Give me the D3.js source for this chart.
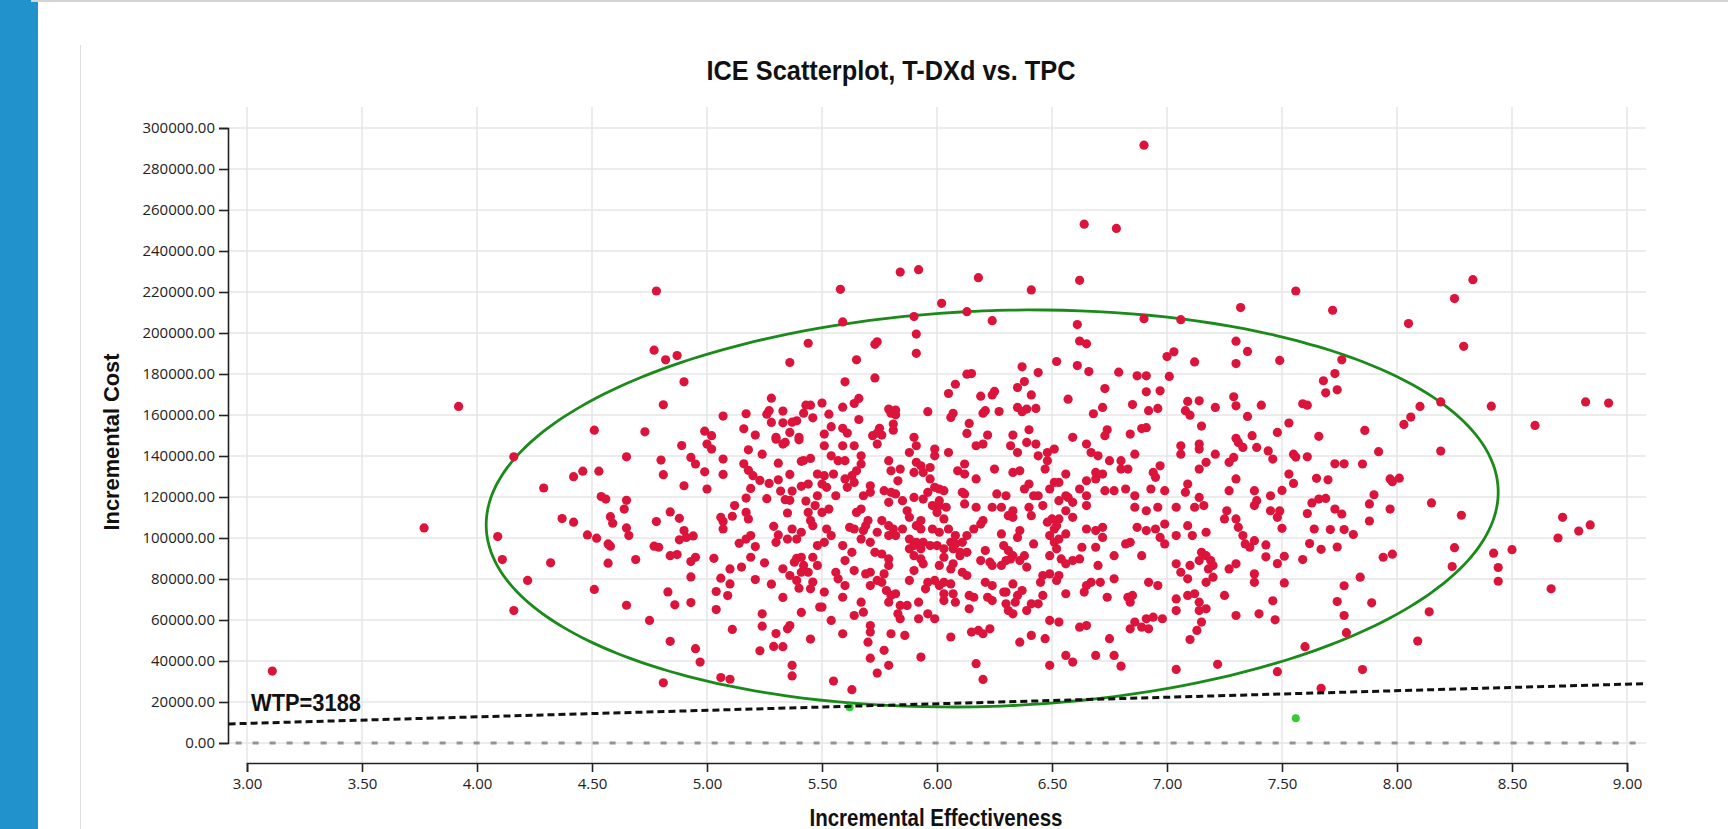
<!DOCTYPE html>
<html>
<head>
<meta charset="utf-8">
<title>ICE Scatterplot</title>
<script src="https://cdn.jsdelivr.net/npm/d3@7"></script>
<style>
  body { margin: 0; background: #fff; }
  svg { display: block; font-family: "Liberation Sans", Arial, sans-serif; }
  .tick text { font-family: "Open Sans", sans-serif; font-size: 15px; fill: #222; }
</style>
</head>
<body>
<svg id="chart" width="1728" height="829"></svg>
<script>
// willingness to pay threshold
const wtp = 3188;

const xTickValues = [3, 3.5, 4, 4.5, 5, 5.5, 6, 6.5, 7, 7.5, 8, 8.5, 9];
const yTickValues = [0, 20000, 40000, 60000, 80000, 100000, 120000, 140000, 160000,
                     180000, 200000, 220000, 240000, 260000, 280000, 300000];

// confidence ellipse: centre and two conjugate half-axes
const ellipseCenter = [6.24, 114400];
const ellipseAxisA = [2.2, 7950];
const ellipseAxisB = [0, 96520];

// extent of the WTP and zero reference lines (effectiveness)
const refLineExtent = [2.92, 9.08];

// [incremental effectiveness, incremental cost]
const icePoints = [
  [3.11,35100],[3.77,104900],[3.92,164200],
  [4.78,220500],[4.77,191600],[4.82,186900],[4.87,189000],[4.90,176200],[4.81,165000],[5.44,195000],[5.36,185600],[5.28,168200],[5.07,159500],[5.17,160600],[5.26,160400],[5.27,162100],[5.33,161900],[5.28,156400],[5.33,156200],[5.37,156500],[5.39,157200],[5.42,160900],[5.43,164800],[5.45,164800],[5.46,158600],[4.51,152600],[4.73,151800],[4.99,152100],[5.02,149900],[5.16,153300],[5.21,150200],[5.36,151500],[5.40,149100],[5.30,149100],
  [4.16,139600],[4.09,100700],[4.11,89500],[4.22,79300],[4.16,64600],[4.29,124400],[4.32,87900],[4.37,109500],[4.42,107700],[4.42,129900],[4.46,132600],[4.53,132600],[4.48,101500],[4.52,99900],[4.51,74900],[4.54,120200],[4.56,119000],[4.57,97100],[4.58,96000],[4.57,87700],[4.58,110400],[4.59,107200],[4.64,114100],[4.65,118400],[4.65,139600],[4.65,104900],[4.66,101200],[4.69,89500],[4.65,67200],[4.75,59800],[4.80,138000],[4.81,130900],[4.78,108000],[4.77,96000],[4.79,95500],[4.84,112700],[4.88,109600],[4.83,73700],[4.84,49600],[4.81,29400],[4.86,67400],[4.84,91400],[4.87,91900],[4.88,99100],[4.90,103600],[4.91,100300],[4.94,101000],[4.89,145100],[4.90,125500],[4.93,139300],[4.95,136100],[4.99,132300],[5.00,123900],[5.00,145800],[5.02,143400],[4.95,90600],[4.93,88500],[4.93,81000],[4.93,68500],[4.95,46000],[4.97,39500],[5.03,90100],[5.06,80400],[5.04,73900],[5.04,65100],[5.06,31900],[5.10,31100],[5.11,55400],[5.09,71900],[5.10,77600],[5.10,84900],[5.15,85800],[5.14,97400],[5.17,99500],[5.19,101200],[5.21,95800],[5.19,90600],[5.21,79700],[5.25,87900],[5.28,77500],[5.33,71000],[5.24,63000],[5.24,57000],[5.30,53400],[5.35,55700],[5.36,57300],[5.29,47100],[5.33,47000],[5.23,45000],[5.37,37900],[5.37,32700],[5.41,63700],[5.45,50700],[5.06,110100],[5.07,108000],[5.07,104400],[5.11,110600],[5.12,115800],[5.17,112500],[5.18,109300],[5.17,119500],[5.19,124200],[5.18,143000],[5.16,136200],[5.18,133000],[5.20,130400],[5.23,128100],[5.24,140900],[5.07,138500],[5.07,131000],[5.27,126600],[5.26,119200],[5.31,136500],[5.31,128400],[5.30,148200],[5.33,145800],[5.34,146600],[5.40,147900],[5.36,131000],[5.41,137400],[5.42,137800],[5.45,138800],[5.41,125200],[5.44,126300],[5.32,122900],[5.37,122900],[5.34,118700],[5.36,118400],[5.35,112200],[5.43,118000],[5.29,105700],[5.30,97900],[5.31,101500],[5.35,99500],[5.37,104400],[5.39,99500],[5.41,102800],[5.44,112500],[5.45,108500],[5.46,106000],[5.47,115800],[5.48,120600],[5.48,131200],[5.48,96300],[5.33,85000],[5.36,81700],[5.38,88200],[5.39,90100],[5.41,90600],[5.42,86600],[5.41,83300],[5.39,79300],[5.40,75500],[5.44,83300],[5.45,75200],[5.46,78500],[5.46,90600],[5.48,86600],[5.49,66300],
  [6.90,291600],[6.64,253100],[6.78,251000],[5.84,229700],[5.92,230900],[5.58,221300],[6.18,227000],[6.41,221000],[6.62,225700],[6.02,214500],[5.59,205400],[5.90,208000],[6.13,210400],[6.24,206000],[6.90,207000],[7.06,206500],[7.32,212400],[6.61,204100],[5.91,199500],[5.91,190100],[5.73,194500],[5.74,195700],[5.65,186900],[6.62,196100],[6.65,194700],[7.30,196000],[7.35,191000],[7.30,185100],[7.00,188500],[7.03,190800],[7.12,185900],[6.52,186100],[6.61,184100],[6.66,181200],[6.79,180900],[6.87,179100],[6.91,179100],[7.01,178800],[6.37,183500],[6.44,180700],[6.38,176300],[6.35,173400],[6.41,169800],[6.13,179900],[6.15,180200],[6.08,175000],[6.05,170500],[6.19,169200],[6.25,171500],[6.24,169800],[6.21,162100],[6.20,160900],[6.27,161700],[6.07,160800],[6.06,158800],[6.14,155900],[6.13,151000],[6.22,150200],[6.33,150200],[6.35,163700],[6.37,161600],[6.39,162900],[6.43,163200],[6.40,152800],[6.57,167700],[6.73,172900],[6.72,163700],[6.68,160600],[6.59,149100],[6.74,152800],[6.73,149900],[6.84,150700],[6.85,165100],[6.91,171300],[6.97,171800],[6.92,162100],[6.96,163200],[6.89,153400],[6.91,153800],[7.09,166600],[7.14,166900],[7.08,162100],[7.10,159900],[7.15,154600],[7.21,163700],[7.29,168900],[7.30,164500],[7.35,159300],[7.30,148600],[7.37,149900],[7.41,164800],[5.50,165800],[5.53,160400],[5.59,163800],[5.64,165600],[5.66,168100],[5.60,176200],[5.73,178100],[5.66,157800],[5.54,154300],[5.59,153500],[5.61,151200],[5.51,150700],[5.79,162900],[5.82,162400],[5.80,160900],[5.82,160100],[5.81,155600],[5.81,152600],[5.75,153500],[5.74,151200],[5.72,149900],[5.76,150200],[5.96,161600],[5.90,149100],
  [5.51,145000],[5.54,140100],[5.57,137700],[5.60,137700],[5.55,131200],[5.51,130400],[5.50,126300],[5.52,124700],[5.56,120600],[5.60,128800],[5.61,124700],[5.63,130400],[5.64,127100],[5.65,132800],[5.59,145000],[5.64,145000],[5.67,140100],[5.67,136100],[5.50,112500],[5.53,114100],[5.52,104400],[5.54,101200],[5.51,97900],[5.59,96300],[5.62,105200],[5.64,104400],[5.63,93000],[5.60,89000],[5.56,83300],[5.57,80100],[5.60,76800],[5.59,71100],[5.51,73600],[5.50,66300],[5.54,59800],[5.59,53300],[5.55,30200],[5.63,26000],[5.64,62200],[5.64,84100],[5.67,68700],[5.68,63800],[5.65,112500],[5.67,114100],[5.68,120600],[5.71,125500],[5.71,122300],[5.69,106000],[5.67,99500],[5.68,103600],[5.70,108500],
  [5.74,145800],[5.79,137700],[5.80,132800],[5.84,133600],[5.83,127900],[5.77,123100],[5.80,122300],[5.82,121500],[5.85,118200],[5.79,117400],[5.76,108500],[5.79,106000],[5.81,104400],[5.82,101200],[5.79,101200],[5.74,102800],[5.71,97900],[5.73,93000],[5.76,92200],[5.79,89800],[5.79,86600],[5.77,82500],[5.74,79300],[5.71,83300],[5.69,82500],[5.71,76800],[5.76,78400],[5.78,74400],[5.80,72000],[5.82,72800],[5.79,68700],[5.84,67100],[5.83,63000],[5.84,60600],[5.87,67100],[5.80,53300],[5.86,52500],[5.71,57300],[5.71,54100],[5.70,49200],[5.77,45200],[5.79,37900],[5.71,41400],[5.74,34100],[5.87,113300],[5.88,110100],[5.85,104400],[5.88,99500],
  [5.91,145000],[5.88,141700],[5.91,136900],[5.93,135200],[5.90,132000],[5.94,132000],[5.97,134400],[5.99,143400],[5.99,140100],[5.97,128800],[5.96,122300],[5.90,119800],[5.94,119000],[5.99,124700],[6.01,123900],[6.03,123100],[6.01,118200],[5.98,115800],[6.01,115800],[6.04,115000],[6.03,109300],[6.00,112500],[5.93,108500],[5.91,106000],[5.93,104400],[5.98,104400],[6.01,102800],[6.05,104400],[5.91,97900],[5.90,96300],[5.88,94700],[5.93,94700],[5.94,97900],[5.97,96300],[6.00,96300],[6.03,94700],[5.90,91400],[5.93,89800],[5.94,87400],[5.90,84100],[5.88,79300],[5.96,78400],[5.95,75200],[5.99,79300],[6.01,76800],[6.03,78400],[6.06,77600],[6.03,72800],[6.03,69500],[6.07,72800],[6.08,68700],[5.92,68700],[5.92,60600],[5.96,63000],[5.99,60600],[6.06,51700],[5.93,41900],[6.01,86600],[6.03,90600],[6.07,87400],[6.06,84900],[6.07,94700],[6.06,97900],[6.05,141700],
  [6.17,145000],[6.20,145800],[6.12,136100],[6.12,131200],[6.17,128800],[6.25,133600],[6.09,132800],[6.11,122300],[6.12,121500],[6.12,116600],[6.17,115000],[6.16,104400],[6.20,108500],[6.19,106800],[6.08,101200],[6.13,101200],[6.11,97900],[6.10,93000],[6.13,93000],[6.10,91400],[6.08,97100],[6.11,83300],[6.13,81700],[6.14,72000],[6.16,71100],[6.14,65500],[6.21,93900],[6.19,89000],[6.21,78400],[6.22,71100],[6.24,69500],[6.24,76800],[6.24,86600],[6.23,88200],[6.29,73600],[6.26,121500],[6.24,115000],[6.28,115000],[6.30,120600],[6.28,102000],[6.29,96300],[6.30,89000],[6.28,86600],[6.15,54100],[6.18,54900],[6.20,53300],[6.23,55700],[6.17,38700],[6.20,31000],
  [6.32,145000],[6.35,141700],[6.39,146600],[6.43,145800],[6.44,140100],[6.48,141700],[6.51,143400],[6.48,137700],[6.47,133600],[6.33,132000],[6.36,132800],[6.38,123900],[6.40,126300],[6.42,120600],[6.40,115000],[6.33,113300],[6.31,110900],[6.33,110100],[6.41,110900],[6.36,103600],[6.35,100300],[6.38,91400],[6.33,91400],[6.31,93900],[6.32,89800],[6.36,89000],[6.39,85800],[6.42,97100],[6.33,77600],[6.30,73600],[6.30,67900],[6.31,64600],[6.33,63000],[6.35,72000],[6.37,74400],[6.34,68700],[6.39,64600],[6.41,67900],[6.44,67900],[6.45,78400],[6.46,81700],[6.49,82500],[6.46,72000],[6.49,59800],[6.41,52500],[6.36,49200],[6.47,50900],[6.49,37900],[6.44,120600],[6.46,115800],[6.49,123900],[6.51,127100],[6.50,109300],[6.48,107700],[6.51,104400],[6.49,101200],[6.51,97900],
  [6.65,145800],[6.67,141700],[6.70,140100],[6.75,137700],[6.56,131200],[6.53,127100],[6.56,120600],[6.53,118200],[6.57,119800],[6.59,117400],[6.62,123900],[6.65,127900],[6.69,132000],[6.72,131200],[6.69,128800],[6.73,123100],[6.65,120600],[6.65,115800],[6.59,110100],[6.56,113300],[6.53,109300],[6.52,106000],[6.56,102000],[6.53,99500],[6.52,94700],[6.49,91400],[6.54,89800],[6.56,87400],[6.59,89000],[6.62,89800],[6.63,95500],[6.65,104400],[6.69,103600],[6.72,105200],[6.72,100300],[6.69,95500],[6.70,86600],[6.53,81700],[6.52,79300],[6.56,72800],[6.65,76800],[6.67,78400],[6.71,78400],[6.64,73600],[6.74,71100],[6.77,80100],[6.77,91400],[6.53,59000],[6.62,56500],[6.65,57300],[6.69,42700],[6.56,42700],[6.59,39500],[6.75,50900],[6.77,42700],[6.80,37500],
  [6.80,137700],[6.83,133600],[6.80,133600],[6.77,123100],[6.82,123900],[6.86,140900],[6.86,120600],[6.86,115000],[6.91,113300],[6.94,132000],[6.97,135200],[6.95,129600],[6.93,123900],[6.99,123100],[6.96,115000],[6.87,105200],[6.91,103600],[6.95,104400],[6.97,100300],[6.99,106800],[6.99,97100],[6.82,97100],[6.84,97900],[6.89,91400],[6.92,78400],[6.96,76800],[6.83,71100],[6.85,72000],[6.84,68700],[6.84,55700],[6.86,59000],[6.89,56500],[6.91,60600],[6.92,55700],[6.94,61400],[6.98,60600],
  [7.06,145000],[7.06,140900],[7.14,145800],[7.14,143400],[7.21,140900],[7.17,136900],[7.14,133600],[7.09,126300],[7.08,122300],[7.14,119800],[7.16,115800],[7.12,115000],[7.04,115000],[7.04,101200],[7.09,106000],[7.11,101200],[7.17,102800],[7.25,109300],[7.26,113300],[7.30,109300],[7.31,105200],[7.33,101200],[7.34,97100],[7.36,95500],[7.38,98700],[7.27,136900],[7.29,139300],[7.30,128800],[7.31,146600],[7.33,144200],[7.39,144200],[7.27,123100],[7.38,123100],[7.39,118200],[7.38,115800],[7.04,87400],[7.06,83300],[7.09,80100],[7.10,86600],[7.14,89000],[7.15,93000],[7.17,91400],[7.19,89000],[7.18,84900],[7.20,80900],[7.17,78400],[7.20,86600],[7.04,70300],[7.04,64600],[7.09,72000],[7.12,72800],[7.14,68700],[7.14,64600],[7.17,65500],[7.15,59000],[7.13,54900],[7.10,50500],[7.04,35900],[7.22,38400],[7.25,72000],[7.30,62200],[7.27,84900],[7.30,87400],[7.38,82500],[7.38,78400],[7.40,63000],
  [7.56,220500],[7.72,211100],[8.05,204600],[8.25,216800],[8.33,226000],[8.29,193500],[7.49,186600],[7.76,186900],[7.73,180200],[7.68,176700],[7.69,170800],[7.74,172300],[7.59,165500],[7.61,164800],[7.53,156100],[7.48,151500],[7.66,149600],[7.86,152500],[8.03,155400],[8.06,159000],[8.10,164200],[8.19,166400],[8.41,164300],[8.60,154900],[8.82,166400],[8.92,165800],
  [7.44,142500],[7.46,138500],[7.55,140900],[7.56,139500],[7.61,139600],[7.73,136200],[7.77,136200],[7.85,136100],[7.92,142100],[8.19,142400],[7.53,131200],[7.55,126600],[7.65,129100],[7.70,128400],[7.97,128800],[7.98,127500],[8.01,129200],[7.50,123200],[7.45,120600],[7.63,117100],[7.66,119000],[7.69,119300],[7.61,111900],[7.49,113200],[7.48,110100],[7.45,113300],[7.73,114100],[7.76,111700],[7.88,116600],[7.90,121100],[7.88,108300],[7.97,114100],[8.15,117100],[8.28,111100],[7.50,104700],[7.64,104400],[7.71,104100],[7.77,104100],[7.81,101700],[7.62,97300],[7.67,94500],[7.74,95600],[7.43,96600],[7.43,90800],[7.51,91100],[7.48,87500],[7.59,89500],[7.94,90600],[7.98,92100],[8.25,95300],[8.24,86100],[8.42,92600],[8.44,85600],[8.44,78900],[8.50,94300],[8.72,110100],[8.70,100000],[8.79,103400],[8.84,106400],[8.67,75200],[7.51,78100],[7.46,69400],[7.47,60100],[7.77,76700],[7.84,80900],[7.74,69000],[7.89,68400],[7.77,62200],[7.78,53800],[8.14,64000],[8.09,49700],[7.60,47000],[7.48,34800],[7.85,35800],[7.67,26700],
  [5.62,17500],[7.56,12100]
];

const svg = d3.select("#chart");

// page chrome around the chart panel
svg.append("rect").attr("x", 0).attr("y", 0).attr("width", 38).attr("height", 829).attr("fill", "#2292cc");
svg.append("rect").attr("x", 31).attr("y", 0).attr("width", 1697).attr("height", 2).attr("fill", "#d4d4d4");
svg.append("line").attr("x1", 80.5).attr("x2", 80.5).attr("y1", 45).attr("y2", 829)
  .attr("stroke", "#dcdcdc").attr("stroke-width", 1);

// plot box (axes sit a little outside the data range)
const plot = {left: 228, right: 1646, top: 107, bottom: 763};

const x = d3.scaleLinear().domain([3, 9]).range([247, 1627]);
const y = d3.scaleLinear().domain([0, 300000]).range([743, 128]);

// grid
svg.append("g")
  .selectAll("line")
  .data(xTickValues)
  .join("line")
    .attr("x1", d => x(d)).attr("x2", d => x(d))
    .attr("y1", plot.top).attr("y2", plot.bottom)
    .attr("stroke", "#e6e6e6").attr("stroke-width", 1.5);

svg.append("g")
  .selectAll("line")
  .data(yTickValues)
  .join("line")
    .attr("x1", plot.left).attr("x2", plot.right)
    .attr("y1", d => y(d)).attr("y2", d => y(d))
    .attr("stroke", "#e6e6e6").attr("stroke-width", 1.5);

// axes
const fmt = d3.format(".2f");

const yAxis = svg.append("g")
  .attr("transform", `translate(${plot.left},0)`)
  .call(d3.axisLeft(y).tickValues(yTickValues).tickFormat(fmt).tickSize(9).tickPadding(4));

const xAxis = svg.append("g")
  .attr("transform", `translate(0,${plot.bottom})`)
  .call(d3.axisBottom(x).tickValues(xTickValues).tickFormat(fmt).tickSize(9).tickPadding(6));

svg.selectAll(".domain, .tick line").attr("stroke", "#222").attr("stroke-width", 1.6);

// zero cost reference
svg.append("line")
  .attr("x1", x(refLineExtent[0]) + 7).attr("x2", x(refLineExtent[1]) - 9)
  .attr("y1", y(0)).attr("y2", y(0))
  .attr("stroke", "#939393").attr("stroke-width", 3)
  .attr("stroke-dasharray", "6,11");

// ellipse
const ellipseLine = d3.line()
  .x(t => x(ellipseCenter[0] + ellipseAxisA[0] * Math.cos(t) + ellipseAxisB[0] * Math.sin(t)))
  .y(t => y(ellipseCenter[1] + ellipseAxisA[1] * Math.cos(t) + ellipseAxisB[1] * Math.sin(t)))
  .curve(d3.curveCardinalClosed);

svg.append("path")
  .datum(d3.range(0, 2 * Math.PI, Math.PI / 90))
  .attr("d", ellipseLine)
  .attr("fill", "none")
  .attr("stroke", "#1a8a1a")
  .attr("stroke-width", 2.8);

// dots: green when below the WTP line
svg.append("g")
  .selectAll("circle")
  .data(icePoints)
  .join("circle")
    .attr("cx", d => x(d[0]))
    .attr("cy", d => y(d[1]))
    .attr("r", d => d[1] < wtp * d[0] ? 4 : 4.6)
    .attr("fill", d => d[1] < wtp * d[0] ? "#32cd32" : "#dc143c");

// WTP line
svg.append("line")
  .attr("x1", x(refLineExtent[0])).attr("y1", y(wtp * refLineExtent[0]))
  .attr("x2", x(refLineExtent[1])).attr("y2", y(wtp * refLineExtent[1]))
  .attr("stroke", "#111").attr("stroke-width", 3)
  .attr("stroke-dasharray", "7,4");

svg.append("text")
  .attr("x", 251).attr("y", 711)
  .attr("font-size", 23).attr("font-weight", "bold").attr("fill", "#111")
  .attr("textLength", 110).attr("lengthAdjust", "spacingAndGlyphs")
  .text("WTP=" + wtp);

// titles
svg.append("text")
  .attr("x", 891).attr("y", 80)
  .attr("text-anchor", "middle")
  .attr("font-size", 27).attr("font-weight", "bold").attr("fill", "#111")
  .attr("textLength", 369).attr("lengthAdjust", "spacingAndGlyphs")
  .text("ICE Scatterplot, T-DXd vs. TPC");

svg.append("text")
  .attr("x", 936).attr("y", 826)
  .attr("text-anchor", "middle")
  .attr("font-size", 23).attr("font-weight", "bold").attr("fill", "#111")
  .attr("textLength", 253).attr("lengthAdjust", "spacingAndGlyphs")
  .text("Incremental Effectiveness");

svg.append("text")
  .attr("transform", "translate(119,442) rotate(-90)")
  .attr("text-anchor", "middle")
  .attr("font-size", 22).attr("font-weight", "bold").attr("fill", "#111")
  .attr("textLength", 177).attr("lengthAdjust", "spacingAndGlyphs")
  .text("Incremental Cost");
</script>
</body>
</html>
